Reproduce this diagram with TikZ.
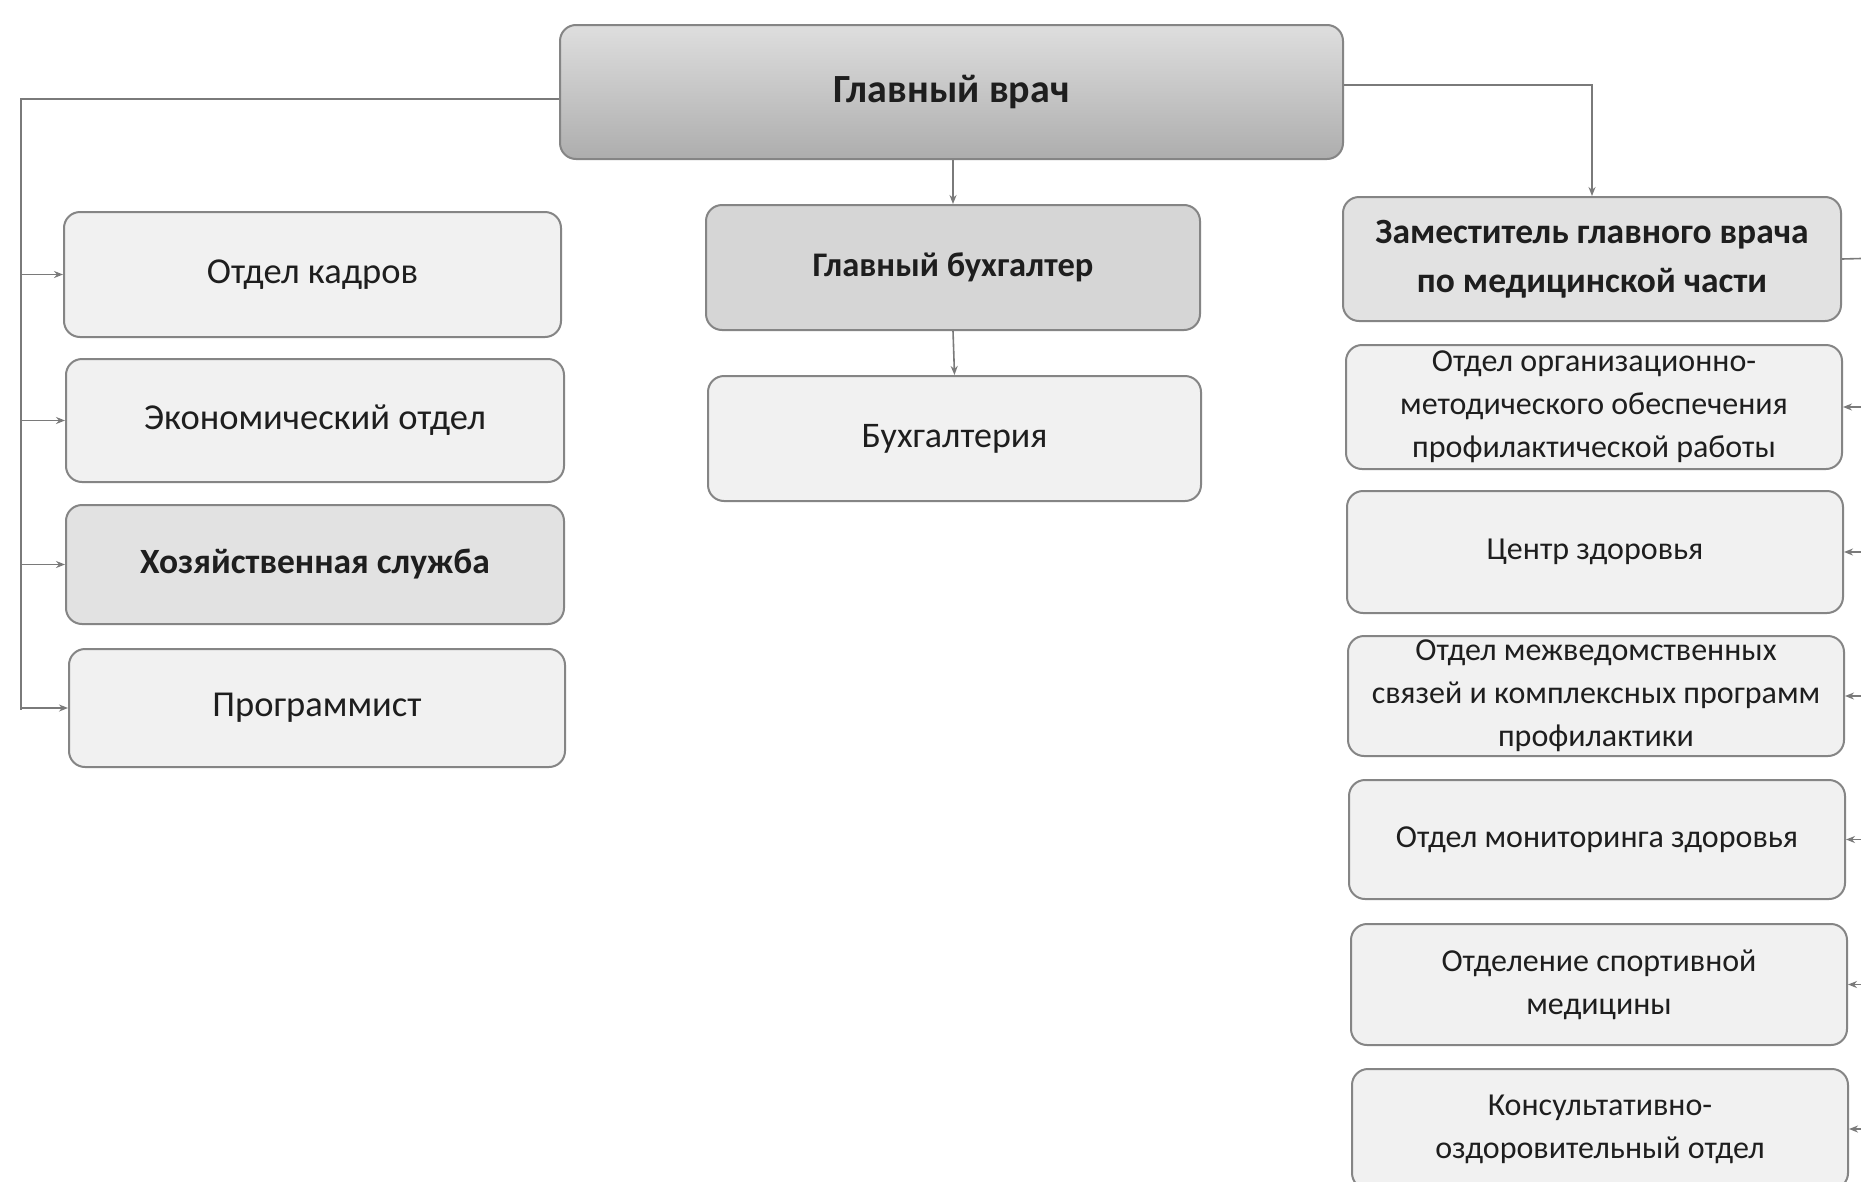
\documentclass[tikz,border=0pt]{standalone}
\usepackage{fontspec}
\setmainfont{Carlito}
\usetikzlibrary{arrows.meta}
\definecolor{edge}{HTML}{858585}
\definecolor{wire}{HTML}{7A7A7A}
\definecolor{ink}{HTML}{1E1E1E}
\definecolor{fillA}{HTML}{F1F1F1}
\definecolor{fillB}{HTML}{E2E2E2}
\definecolor{fillC}{HTML}{D6D6D6}
\begin{document}
\begin{tikzpicture}[x=1pt,y=-1pt,
  box/.style={draw=edge, line width=2pt, rounded corners=16pt, fill=fillA,
    anchor=north west, inner sep=0pt, align=center, text=ink},
  lft/.style={box, font=\fontsize{36.5}{44}\selectfont},
  mid/.style={box, font=\fontsize{36}{44}\selectfont},
  rgt/.style={box, font=\fontsize{32}{43}\selectfont},
  wireline/.style={draw=wire, line width=1.6pt},
  arr/.style={wireline, -{Stealth[length=9pt,width=7pt]}}]
\useasboundingbox (0,0) rectangle (1861,1181);
\fill[white] (0,0) rectangle (1861,1181);
\clip (0,0) rectangle (1861,1181);

% main
\node[box, top color=fillC!80, bottom color=black!32, minimum width=783pt, minimum height=134pt,
  font=\fontsize{40}{44}\selectfont\bfseries] (main) at (559,24) {Главный врач};

% left column
\node[lft, minimum width=497pt, minimum height=125pt] (kad) at (63,211) {Отдел кадров};
\node[lft, minimum width=498pt, minimum height=123pt] (eco) at (65,358) {Экономический отдел};
\node[lft, fill=fillB, minimum width=498pt, minimum height=119pt, font=\fontsize{35.5}{44}\selectfont\bfseries] (hoz) at (65,504) {Хозяйственная служба};
\node[lft, minimum width=496pt, minimum height=118pt] (prog) at (68,648) {Программист};

% middle column
\node[mid, fill=fillC, minimum width=494pt, minimum height=125pt, font=\fontsize{34.5}{44}\selectfont\bfseries] (gb) at (705,204) {Главный бухгалтер};
\node[mid, minimum width=493pt, minimum height=125pt] (buh) at (707,375) {Бухгалтерия};

% right column
\node[rgt, fill=fillB, minimum width=498pt, minimum height=124pt, font=\fontsize{35.5}{49}\selectfont\bfseries] (zam) at (1342,196) {Заместитель главного врача\\по медицинской части};
\node[rgt, minimum width=496pt, minimum height=124pt] (org) at (1345,344) {Отдел организационно-\\методического обеспечения\\профилактической работы};
\node[rgt, minimum width=496pt, minimum height=122pt] (cz) at (1346,490) {Центр здоровья};
\node[rgt, minimum width=496pt, minimum height=120pt] (mvd) at (1347,635) {Отдел межведомственных\\связей и комплексных программ\\профилактики};
\node[rgt, minimum width=496pt, minimum height=119pt] (mon) at (1348,779) {Отдел мониторинга здоровья};
\node[rgt, minimum width=496pt, minimum height=121pt] (sport) at (1350,923) {Отделение спортивной\\медицины};
\node[rgt, minimum width=496pt, minimum height=120pt] (kons) at (1351,1068) {Консультативно-\\оздоровительный отдел};

% left bus
\coordinate (ml) at ([yshift=-7pt]main.west);
\coordinate (ltop) at (21,98);
\coordinate (lbot) at (21,710);
\draw[wireline] (ml) -- (ml -| ltop) -- (lbot);
\foreach \n in {kad,eco,hoz,prog}{
  \draw[arr] (ltop |- \n.west) -- (\n.west);
}

% middle
\draw[arr] (gb.north |- main.south) -- (gb.north);
\draw[arr] (gb.south) -- (buh.north);

% right
\coordinate (mr) at ([yshift=7pt]main.east);
\draw[arr] (mr) -| (zam.north);
\coordinate (rtop) at (1880,258);
\coordinate (rbot) at (1880,1130);
\draw[wireline] (zam.east) -- (rtop) -- (rbot);
\foreach \n in {org,cz,mvd,mon,sport,kons}{
  \draw[arr] (rtop |- \n.east) -- (\n.east);
}
\end{tikzpicture}
\end{document}
